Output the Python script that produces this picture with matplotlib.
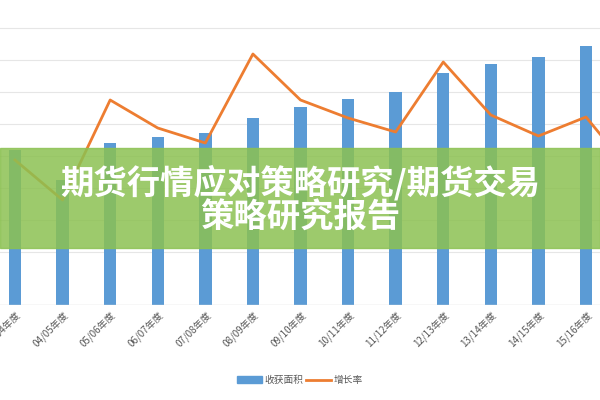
import matplotlib
matplotlib.use("Agg")
import matplotlib.pyplot as plt
from matplotlib.patches import Rectangle
from matplotlib.lines import Line2D

plt.rcParams['font.family'] = ['Noto Sans CJK SC', 'DejaVu Sans']

years = ["03/04年度","04/05年度","05/06年度","06/07年度","07/08年度","08/09年度","09/10年度",
         "10/11年度","11/12年度","12/13年度","13/14年度","14/15年度","15/16年度","16/17年度"]
area = [155, 125, 162, 168, 172, 187, 198, 206, 213, 232, 241, 248, 259, 265]
rate = [145, 105, 205, 177, 162, 251, 205, 187, 173, 243, 190, 169, 188, 130]

fig = plt.figure(figsize=(6, 4), dpi=100)
ax = fig.add_axes([0, 95/400, 1, 305/400])
x = list(range(len(years)))
ax.bar(x, area, width=0.26, color='#5b9bd5', zorder=2)
ax.plot(x, rate, color='#ed7d31', lw=2, zorder=3)
ax.set_xticks(x)
ax.set_xticklabels(years, rotation=45, ha='right', rotation_mode='anchor', fontsize=7, color='#595959')
ax.set_yticks([53, 85, 117, 149, 181, 213, 245, 277])
ax.set_yticklabels([])
ax.set_xlim(-0.315, 12.294)
ax.set_ylim(0, 305)
ax.tick_params(length=0)
ax.grid(axis='y', color='#e6e6e6', lw=0.8, zorder=0)
for s in ax.spines.values():
    s.set_visible(False)
ax.axhline(0, color='#d9d9d9', lw=1)

fig.patches.append(Rectangle((0, 1-248/400), 1, 100/400, transform=fig.transFigure,
                             color='#8cc152', alpha=0.85, zorder=5))
fig.text(0.5, 1-183/400, "期货行情应对策略研究/期货交易", ha='center', va='center',
         fontsize=24, fontweight='bold', color='white', zorder=6)
fig.text(0.5, 1-218/400, "策略研究报告", ha='center', va='center',
         fontsize=24, fontweight='bold', color='white', zorder=6)

handles = [Rectangle((0, 0), 1, 1, color='#5b9bd5'), Line2D([0], [0], color='#ed7d31', lw=2)]
fig.legend(handles, ["收获面积", "增长率"], loc='center', bbox_to_anchor=(0.5, 1-380/400),
           ncol=2, frameon=False, fontsize=7, labelcolor='#595959', handlelength=2.5, columnspacing=0.3,
           handletextpad=0.3)
fig.savefig("out.png", dpi=100, facecolor='white')
